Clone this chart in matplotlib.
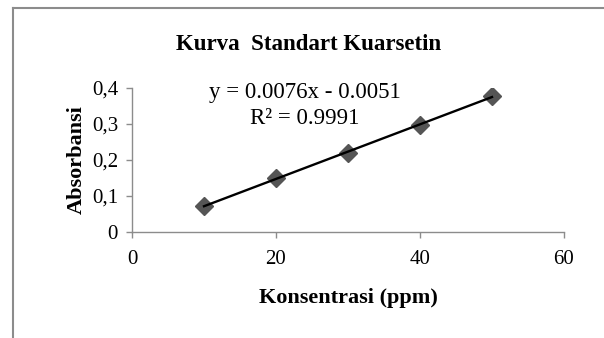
import numpy as np
import matplotlib.pyplot as plt
from matplotlib.lines import Line2D

konsentrasi = [10, 20, 30, 40, 50]
absorbansi = [0.072, 0.150, 0.218, 0.298, 0.377]
slope = 0.0076
intercept = -0.0051
r2 = 0.9991
xticks = [0, 20, 40, 60]
yticks = [0, 0.1, 0.2, 0.3, 0.4]
yticklabels = ['0', '0,1', '0,2', '0,3', '0,4']

plt.rcParams['font.family'] = ['Liberation Serif', 'DejaVu Serif']

fig = plt.figure(figsize=(6.04, 3.38), dpi=100)
W, H = 604, 338
# axes: x 0..60 -> px 132..564, y 0..0.4 -> px 231.7..88
ax = fig.add_axes([132 / W, 1 - 231.7 / H, (564 - 132) / W, (231.7 - 88) / H])

# frame of chart area (only top and left inside the crop)
fig.add_artist(Line2D([12.5 / W, 12.5 / W], [0, 1 - 7.5 / H], color='#8c8c8c', lw=1.5))
fig.add_artist(Line2D([12.5 / W, 1], [1 - 7.5 / H, 1 - 7.5 / H], color='#8c8c8c', lw=1.5))

ax.plot(konsentrasi, absorbansi, linestyle='none', marker='D', markersize=9,
        color='#555555', zorder=3)
xs = np.array([konsentrasi[0], konsentrasi[-1]])
ax.plot(xs, slope * xs + intercept, color='black', lw=1.7, zorder=4)

ax.set_xlim(0, 60)
ax.set_ylim(0, 0.4)
ax.set_xticks(xticks)
ax.set_yticks(yticks)
ax.set_yticklabels(yticklabels)
ax.tick_params(direction='out', length=4, color='#8c8c8c', labelsize=15, width=1)
ax.tick_params(axis='x', pad=9)
ax.tick_params(axis='y', pad=6)
for s in ['top', 'right']:
    ax.spines[s].set_visible(False)
for s in ['left', 'bottom']:
    ax.spines[s].set_color('#8c8c8c')
    ax.spines[s].set_linewidth(1)

ax.set_xlabel('Konsentrasi (ppm)', fontsize=16, fontweight='bold', labelpad=14)
ax.set_ylabel('Absorbansi', fontsize=16, fontweight='bold', labelpad=4)
fig.text(309 / W, 1 - 45 / H, 'Kurva  Standart Kuarsetin', fontsize=16.5,
         fontweight='bold', ha='center', va='center')

ax.text(173 / 432, 1.04, 'y = %.4fx - %.4f\nR² = %.4f' % (slope, -intercept, r2),
        transform=ax.transAxes, ha='center', va='top', fontsize=16.5,
        linespacing=1.3)

fig.savefig('out.png', dpi=100)
